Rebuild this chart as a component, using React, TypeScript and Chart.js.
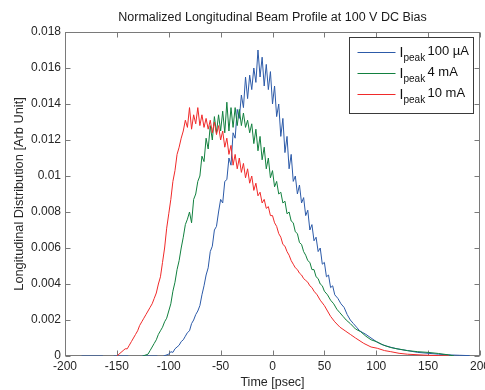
import React, { useEffect, useRef } from 'react';
import { Chart, registerables } from 'chart.js';

Chart.register(...registerables);

const titleText = 'Normalized Longitudinal Beam Profile at 100 V DC Bias';
const xAxisLabel = 'Time [psec]';
const yAxisLabel = 'Longitudinal Distribution [Arb Unit]';
const legendMain = 'I';
const legendSub = 'peak';
const legendLabels = ['100 µA', '4 mA', '10 mA'];
const seriesColors = ['#2c5aa8', '#12803f', '#f02a2a'];

// Time axis (psec) and longitudinal distribution values
const blueTimes = [
  -184, -163.5, -158, -153, -139, -132, -125.6, -111, -108,
  -105, -100, -98, -96, -94, -92, -90, -88, -86, -84, -82, -80, -78, -76, -74, -72, -70,
  -68, -66, -64, -62, -60, -58, -56, -54, -52, -50, -48, -46, -44, -42, -40, -38, -36,
  -34, -32, -30, -28, -26, -24, -22, -20, -18, -16, -14, -12, -10, -8, -6, -4, -2, 0,
  2, 4, 6, 8, 10, 12, 14, 16, 18, 20, 22, 24, 26, 28, 30, 32, 34, 36, 38, 40, 42, 44,
  46, 48, 50, 52, 54, 56, 58, 60, 63, 66, 69, 72, 75, 78, 81, 84, 87, 90, 95, 100, 105,
  110, 115, 120, 125, 130, 140, 150, 160, 170, 180, 190,
];
const blueValues = [
  0, 0, null, 0, 0, null, 0, 0, null,
  0, 0.0001, 0.00024, 0.0002, 0.0004, 0.0005, 0.0006, 0.0008, 0.0009, 0.0011, 0.0013, 0.0014,
  0.0018, 0.002, 0.0023, 0.0025, 0.0028, 0.0034, 0.0039, 0.0045, 0.0049, 0.0058, 0.0061,
  0.007, 0.0072, 0.008, 0.0087, 0.0085, 0.0097, 0.0098, 0.011, 0.0106, 0.0124, 0.0121,
  0.0137, 0.0132, 0.0145, 0.0138, 0.0155, 0.0143, 0.0156, 0.0148, 0.016, 0.0152, 0.017,
  0.0155, 0.0166, 0.015, 0.0162, 0.0148, 0.0158, 0.014, 0.015, 0.0133, 0.014, 0.0122,
  0.0132, 0.0113, 0.0122, 0.0104, 0.0112, 0.0097, 0.01, 0.009, 0.0095, 0.0085, 0.0088,
  0.0078, 0.0081, 0.007, 0.0073, 0.0064, 0.0066, 0.0058, 0.006, 0.0051, 0.0052, 0.0044,
  0.0045, 0.0038, 0.0039, 0.0034, 0.0032, 0.0029, 0.0027, 0.0023, 0.002, 0.0018, 0.0016,
  0.0014, 0.0013, 0.0012, 0.001, 0.0008, 0.00065, 0.00055, 0.00047, 0.0004, 0.00035,
  0.0003, 0.0002, 0.00015, 0.0001, 0.00006, 0.00004, 0.00002,
];

const greenTimes = [
  -125, -120, -118, -116, -114, -112, -110, -108, -106, -104, -102, -100, -98, -96, -94,
  -92, -90, -88, -86, -84, -82, -80, -78, -76, -74, -72, -70, -68, -66, -64, -62, -60,
  -58, -56, -54, -52, -50, -48, -46, -44, -42, -40, -38, -36, -34, -32, -30, -28, -26,
  -24, -22, -20, -18, -16, -14, -12, -10, -8, -6, -4, -2, 0, 2, 4, 6, 8, 10, 12, 14, 16,
  18, 20, 22, 24, 26, 28, 30, 32, 34, 36, 38, 40, 42, 44, 46, 48, 50, 53, 56, 59, 62, 65,
  68, 71, 75, 80, 85, 90, 95, 100, 107, 114, 120, 130, 140, 150, 160, 170, 175,
];
const greenValues = [
  0, 0.0001, 0.0003, 0.0005, 0.0007, 0.0009, 0.0012, 0.0014, 0.0016, 0.0019, 0.0021,
  0.0025, 0.0029, 0.0036, 0.0041, 0.0048, 0.0053, 0.006, 0.0066, 0.0073, 0.0076, 0.008,
  0.0074, 0.0087, 0.009, 0.0097, 0.01, 0.0111, 0.0108, 0.0121, 0.0115, 0.0128, 0.012,
  0.0133, 0.0124, 0.0134, 0.0125, 0.0136, 0.0124, 0.0141, 0.0125, 0.0138, 0.0127, 0.0138,
  0.0128, 0.0137, 0.0128, 0.0135, 0.0127, 0.0131, 0.0124, 0.0129, 0.0118, 0.0126, 0.0114,
  0.0122, 0.0109, 0.0116, 0.0104, 0.011, 0.0099, 0.0103, 0.0094, 0.0097, 0.009, 0.0091,
  0.0085, 0.0086, 0.0079, 0.008, 0.0075, 0.0074, 0.0069, 0.0068, 0.0063, 0.0062, 0.0058,
  0.0056, 0.0053, 0.0052, 0.0048, 0.0048, 0.0044, 0.0043, 0.004, 0.0039, 0.0036, 0.0034,
  0.0031, 0.0029, 0.0026, 0.0024, 0.0022, 0.002, 0.0018, 0.0015, 0.00135, 0.0011, 0.0009,
  0.0008, 0.0006, 0.00047, 0.0004, 0.0003, 0.00024, 0.0002, 0.00014, 0.00006, 0,
];

const redTimes = [
  -150, -148, -146, -144, -142, -140, -138, -136, -134, -132, -130, -128, -126, -124,
  -122, -120, -118, -116, -114, -112, -110, -108, -106, -104, -102, -100, -98, -96, -94,
  -92, -90, -88, -86, -84, -82, -80, -78, -76, -74, -72, -70, -68, -66, -64, -62, -60,
  -58, -56, -54, -52, -50, -48, -46, -44, -42, -40, -38, -36, -34, -32, -30, -28, -26,
  -24, -22, -20, -18, -16, -14, -12, -10, -8, -6, -4, -2, 0, 2, 4, 6, 8, 10, 12, 14, 16,
  18, 20, 22, 24, 26, 28, 30, 32, 34, 36, 38, 40, 43, 46, 50, 53, 56, 60, 65, 70, 75, 80,
  88, 95, 101, 108, 114, 122, 130, 146, 160, 170,
];
const redValues = [
  0, 0.0001, 0.0002, 0.0003, 0.0004, 0.0004, 0.0006, 0.0008, 0.001, 0.0012, 0.0014,
  0.0017, 0.0019, 0.0021, 0.0023, 0.0025, 0.0027, 0.0029, 0.0032, 0.0035, 0.004, 0.0044,
  0.0052, 0.006, 0.0071, 0.0079, 0.0087, 0.0097, 0.0103, 0.0112, 0.0116, 0.0121, 0.0125,
  0.0131, 0.0127, 0.0138, 0.0126, 0.0134, 0.0129, 0.0138, 0.0128, 0.0134, 0.0127, 0.0132,
  0.0126, 0.0131, 0.0124, 0.013, 0.0123, 0.0128, 0.012, 0.0125, 0.0116, 0.0121, 0.0112,
  0.0117, 0.0106, 0.0112, 0.0104, 0.011, 0.0102, 0.0107, 0.0099, 0.0104, 0.0096, 0.01,
  0.0092, 0.0096, 0.0089, 0.0091, 0.0085, 0.0087, 0.0082, 0.0083, 0.0078, 0.0078, 0.0074,
  0.0072, 0.0068, 0.0066, 0.0062, 0.0061, 0.0058, 0.0056, 0.0053, 0.0051, 0.0049, 0.0048,
  0.0046, 0.0045, 0.0043, 0.0042, 0.0041, 0.0039, 0.0038, 0.0036, 0.0034, 0.0031, 0.0028,
  0.0025, 0.0022, 0.0019, 0.0016, 0.0014, 0.0012, 0.001, 0.0007, 0.0005, 0.00043, 0.0003,
  0.00024, 0.00015, 0.0001, 0.00005, 0.00002, 0,
];

const FONT = "'Liberation Sans', Arial, Helvetica, sans-serif";

function toPoints(times: number[], values: (number | null)[]) {
  const n = Math.min(times.length, values.length);
  const pts: { x: number; y: number | null }[] = [];
  for (let i = 0; i < n; i++) pts.push({ x: times[i], y: values[i] });
  return pts;
}

const framePlugin = {
  id: 'matlabFrame',
  beforeDatasetsDraw(chart: any) {
    const { ctx, chartArea: a, scales } = chart;
    ctx.save();
    ctx.strokeStyle = '#7a7a7a';
    ctx.lineWidth = 1;
    const L = Math.round(a.left) + 0.5;
    const R = Math.round(a.right) - 0.5;
    const T = Math.round(a.top) + 0.5;
    const B = Math.round(a.bottom) - 0.5;
    ctx.strokeRect(L, T, R - L, B - T);
    const len = 5;
    ctx.beginPath();
    scales.x.ticks.forEach((t: any) => {
      const px = Math.round(scales.x.getPixelForValue(t.value)) + 0.5;
      ctx.moveTo(px, B);
      ctx.lineTo(px, B - len);
      ctx.moveTo(px, T);
      ctx.lineTo(px, T + len);
    });
    scales.y.ticks.forEach((t: any) => {
      const py = Math.round(scales.y.getPixelForValue(t.value)) + 0.5;
      ctx.moveTo(L, py);
      ctx.lineTo(L + len, py);
      ctx.moveTo(R, py);
      ctx.lineTo(R - len, py);
    });
    ctx.stroke();
    ctx.restore();
  },
  afterDraw(chart: any) {
    const { ctx, chartArea: a } = chart;
    ctx.save();
    const boxW = 124;
    const boxH = 76;
    const boxL = Math.round(a.right - 7 - boxW) + 0.5;
    const boxT = Math.round(a.top + 5) + 0.5;
    ctx.fillStyle = '#ffffff';
    ctx.fillRect(boxL, boxT, boxW, boxH);
    ctx.strokeStyle = '#3a3a3a';
    ctx.lineWidth = 1;
    ctx.strokeRect(boxL, boxT, boxW, boxH);
    const rows = [14.5, 35.5, 56.5];
    legendLabels.forEach((label, i) => {
      const y = boxT + rows[i];
      ctx.strokeStyle = seriesColors[i];
      ctx.beginPath();
      ctx.moveTo(boxL + 8, Math.round(y) + 0.5);
      ctx.lineTo(boxL + 46, Math.round(y) + 0.5);
      ctx.stroke();
      ctx.fillStyle = '#111111';
      ctx.textBaseline = 'alphabetic';
      ctx.textAlign = 'left';
      ctx.font = `14px ${FONT}`;
      ctx.fillText(legendMain, boxL + 50, y + 5);
      ctx.font = `10px ${FONT}`;
      ctx.fillText(legendSub, boxL + 54, y + 9);
      ctx.font = `13px ${FONT}`;
      ctx.fillText(label, boxL + 78, y + 2.5);
    });
    ctx.restore();
  },
};

export default function App() {
  const canvasRef = useRef<HTMLCanvasElement | null>(null);

  useEffect(() => {
    document.body.style.margin = '0';
    const canvas = canvasRef.current;
    if (!canvas) return;
    const tickColor = '#262626';
    const chart = new Chart(canvas, {
      type: 'line',
      data: {
        datasets: [
          {
            label: legendLabels[0],
            data: toPoints(blueTimes, blueValues),
            borderColor: seriesColors[0],
            borderWidth: 1,
            pointRadius: 0,
            tension: 0,
            spanGaps: false,
            order: 3,
          },
          {
            label: legendLabels[1],
            data: toPoints(greenTimes, greenValues),
            borderColor: seriesColors[1],
            borderWidth: 1,
            pointRadius: 0,
            tension: 0,
            order: 2,
          },
          {
            label: legendLabels[2],
            data: toPoints(redTimes, redValues),
            borderColor: seriesColors[2],
            borderWidth: 1,
            pointRadius: 0,
            tension: 0,
            order: 1,
          },
        ],
      },
      options: {
        animation: false,
        responsive: false,
        devicePixelRatio: 1,
        layout: { padding: { left: 0, right: 5, top: 0, bottom: 0 } },
        plugins: {
          legend: { display: false },
          tooltip: { enabled: false },
          title: {
            display: true,
            fullSize: false,
            text: titleText,
            color: '#1a1a1a',
            font: { family: FONT, size: 12.5, weight: 'normal' },
            padding: { top: 10, bottom: 7 },
          },
        },
        scales: {
          x: {
            type: 'linear',
            min: -200,
            max: 200,
            grid: { display: false, drawTicks: false },
            border: { display: false },
            ticks: {
              stepSize: 50,
              color: tickColor,
              padding: 3,
              maxRotation: 0,
              autoSkip: false,
              font: { family: FONT, size: 12 },
            },
            title: {
              display: true,
              text: xAxisLabel,
              color: tickColor,
              padding: { top: 0, bottom: 0 },
              font: { family: FONT, size: 12.5 },
            },
            afterFit: (scale: any) => {
              scale.height = 34;
              scale.paddingLeft = 0;
              scale.paddingRight = 0;
            },
          },
          y: {
            type: 'linear',
            min: 0,
            max: 0.018,
            grid: { display: false, drawTicks: false },
            border: { display: false },
            ticks: {
              stepSize: 0.002,
              color: tickColor,
              padding: 4,
              autoSkip: false,
              font: { family: FONT, size: 12 },
              callback: (v: any) => String(Number(Number(v).toFixed(4))),
            },
            title: {
              display: true,
              text: yAxisLabel,
              color: tickColor,
              padding: { top: 11.5, bottom: 0 },
              font: { family: FONT, size: 12.8 },
            },
            afterFit: (scale: any) => {
              scale.width = 65;
              scale.paddingTop = 0;
              scale.paddingBottom = 0;
            },
          },
        },
      },
      plugins: [framePlugin],
    } as any);
    return () => chart.destroy();
  }, []);

  return (
    <div style={{ width: 485, height: 390, background: '#ffffff' }}>
      <canvas ref={canvasRef} width={485} height={390} style={{ display: 'block' }} />
    </div>
  );
}
